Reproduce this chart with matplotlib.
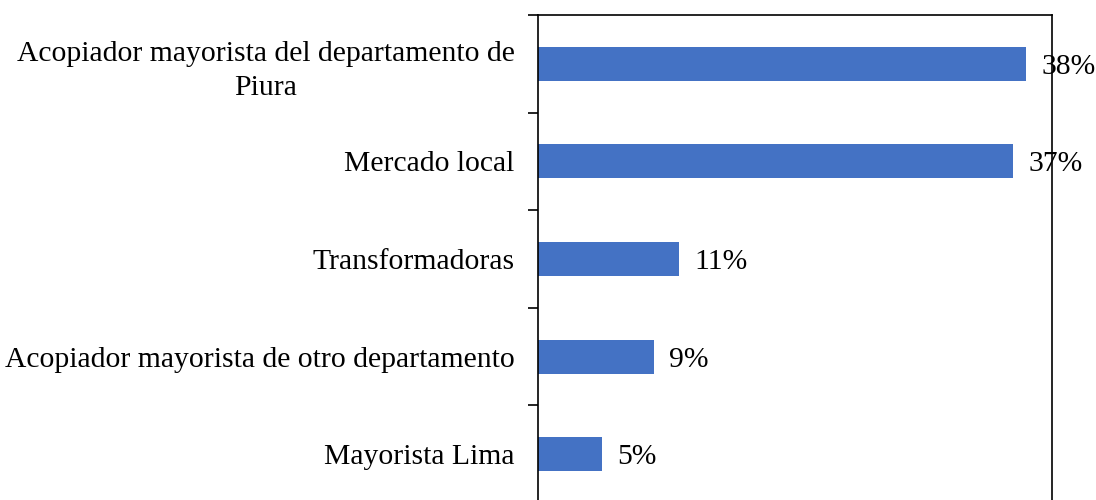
import matplotlib
matplotlib.use("Agg")
import matplotlib.pyplot as plt
import numpy as np

# datos (de abajo hacia arriba en el gráfico)
categorias = ["Mayorista Lima",
              "Acopiador mayorista de otro departamento",
              "Transformadoras",
              "Mercado local",
              "Acopiador mayorista del departamento de\nPiura"]
porcentajes = [5, 9, 11, 37, 38]

plt.rcParams["font.family"] = ["Liberation Serif", "DejaVu Serif"]

fig = plt.figure(figsize=(10.96, 5.0), dpi=100)
ax = fig.add_axes([538 / 1096, -3 / 500, (1052 - 538) / 1096, 488 / 500])

y = np.arange(len(categorias))
ax.barh(y, porcentajes, height=0.35, color="#4472C4")
for yi, v in zip(y, porcentajes):
    ax.annotate(f"{v}%", (v, yi), xytext=(11, 0), textcoords="offset points",
                va="center_baseline", ha="left", fontsize=21.3)

ax.set_xlim(0, 40)
ax.set_ylim(-0.5, len(categorias) - 0.5)
ax.set_xticks([])
ax.set_yticks(y)
ax.set_yticklabels(categorias, fontsize=21.3, ha="right", multialignment="center",
                   linespacing=1.4)
ax.tick_params(axis="y", which="major", length=0, pad=17)
ax.set_yticks(np.arange(-0.5, len(categorias)), minor=True)
ax.tick_params(axis="y", which="minor", length=7, width=1.2, direction="out")
for s in ax.spines.values():
    s.set_linewidth(1.2)
    s.set_color("black")

fig.savefig("out.png", dpi=100)
